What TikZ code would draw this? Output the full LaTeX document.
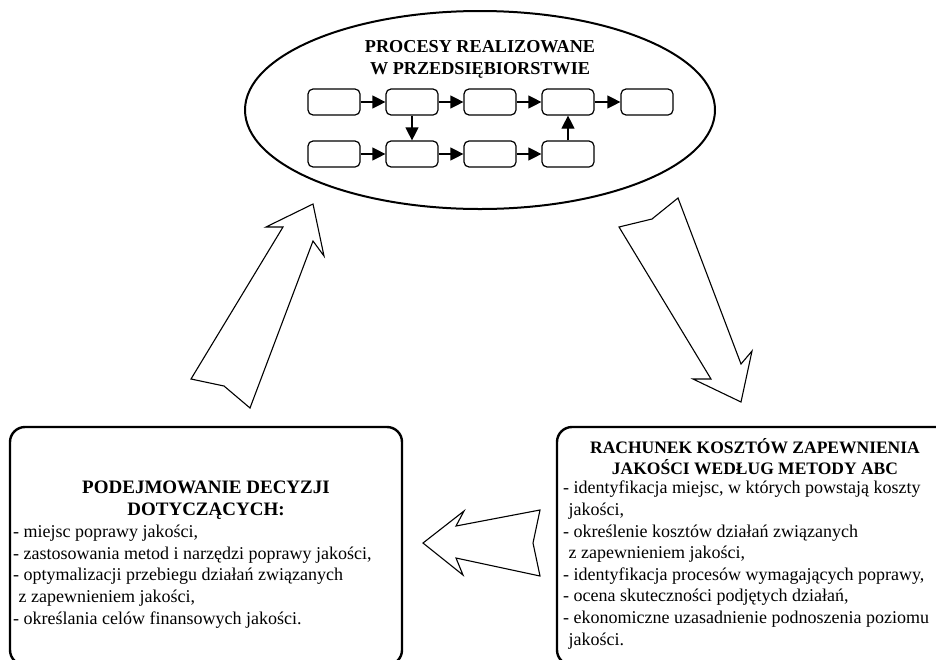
\documentclass[tikz,border=0pt]{standalone}
\usepackage{fontspec}
\setmainfont{Liberation Serif}
\usetikzlibrary{arrows.meta,shapes.geometric}

\tikzset{
  bodytext/.style={font=\fontsize{18}{21.6}\selectfont, inner sep=0pt},
  titletext/.style={font=\fontsize{17.5}{21}\selectfont\bfseries, align=center, inner sep=0pt},
  bigtitle/.style={titletext, font=\fontsize{19}{22}\selectfont\bfseries},
  proctitle/.style={titletext, font=\fontsize{18.2}{22}\selectfont\bfseries},
  listtext/.style={bodytext, align=left, anchor=north west},
  procbox/.style={draw, line width=1.2pt, rounded corners=5pt,
    minimum width=52pt, minimum height=26pt, inner sep=0pt},
  flow/.style={line width=1.2pt, -{Triangle[length=13pt,width=13pt]}},
  bigbox/.style={draw, line width=2.4pt, rounded corners=15pt, inner sep=0pt},
  blockarrow/.style={draw, line width=1.1pt, line join=miter, fill=white},
}

\newcommand{\cont}{\hspace*{0.3em}}

\begin{document}
\begin{tikzpicture}[x=1pt, y=-1pt]
\useasboundingbox (0,0) rectangle (936,659);

% process ellipse
\node[draw, ellipse, line width=2pt, minimum width=470pt, minimum height=198pt]
  (proc) at (480,110) {};
\node[proctitle] (ptitle) at (480,59)
  {PROCESY REALIZOWANE\\W PRZEDSIĘBIORSTWIE};

% process steps, upper row
\node[procbox] (a1) at (334,102) {};
\node[procbox] (a2) at (412,102) {};
\node[procbox] (a3) at (490,102) {};
\node[procbox] (a4) at (568,102) {};
\node[procbox] (a5) at (647,102) {};
% process steps, lower row
\node[procbox] (b1) at (334,154) {};
\node[procbox] (b2) at (412,154) {};
\node[procbox] (b3) at (490,154) {};
\node[procbox] (b4) at (568,154) {};

\draw[flow] (a1) -- (a2);
\draw[flow] (a2) -- (a3);
\draw[flow] (a3) -- (a4);
\draw[flow] (a4) -- (a5);
\draw[flow] (b1) -- (b2);
\draw[flow] (b2) -- (b3);
\draw[flow] (b3) -- (b4);
\draw[flow] (a2) -- (b2);
\draw[flow] (b4) -- (a4);

% decision box
\node[bigbox, minimum width=392pt, minimum height=238pt] (dec) at (206,546) {};
\node[bigtitle] (dectitle) at (206,500) {PODEJMOWANIE DECYZJI\\DOTYCZĄCYCH:};
\node[listtext] (declist) at (13,525) {%
- miejsc poprawy jakości,\\
- zastosowania metod i narzędzi poprawy jakości,\\
- optymalizacji przebiegu działań związanych\\
\cont z zapewnieniem jakości,\\
- określania celów finansowych jakości.};

% ABC cost box
\node[bigbox, minimum width=410pt, minimum height=238pt] (abc) at (762,546) {};
\node[titletext] (abctitle) at (755,457)
  {RACHUNEK KOSZTÓW ZAPEWNIENIA\\JAKOŚCI WEDŁUG METODY ABC};
\node[listtext] (abclist) at (563,481) {%
- identyfikacja miejsc, w których powstają koszty\\
\cont jakości,\\
- określenie kosztów działań związanych\\
\cont z zapewnieniem jakości,\\
- identyfikacja procesów wymagających poprawy,\\
- ocena skuteczności podjętych działań,\\
- ekonomiczne uzasadnienie podnoszenia poziomu\\
\cont jakości.};

% hollow block arrows of the cycle
\draw[blockarrow] (313,204) -- (324,256) -- (313,241) -- (250,408) -- (224,386)
  -- (191,379) -- (283,227) -- (266,227) -- cycle;
\draw[blockarrow] (619,227) -- (652,219) -- (678,198) -- (741,364) -- (752,351)
  -- (741,402) -- (693,379) -- (711,379) -- cycle;
\draw[blockarrow] (423,543) -- (464,511) -- (456,526) -- (540,510) -- (533,543)
  -- (540,576) -- (456,558) -- (463,575) -- cycle;
\end{tikzpicture}
\end{document}
